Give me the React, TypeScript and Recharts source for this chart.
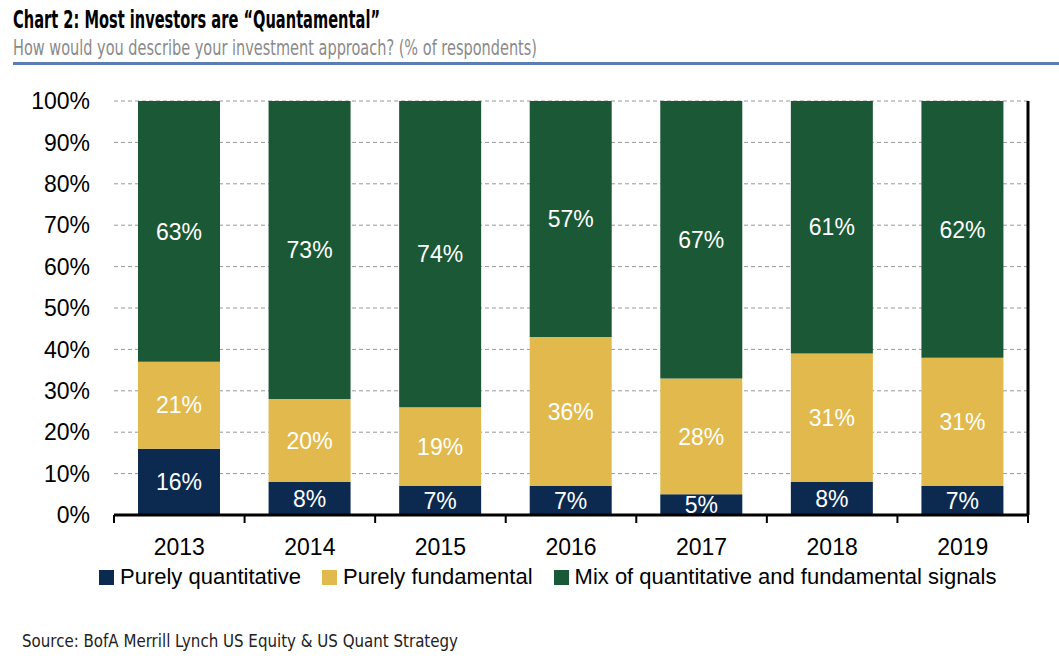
import { BarChart, Bar, XAxis, YAxis, CartesianGrid, LabelList } from 'recharts';

const years = ['2013', '2014', '2015', '2016', '2017', '2018', '2019'];
const purelyQuant = [16, 8, 7, 7, 5, 8, 7];
const purelyFundamental = [21, 20, 19, 36, 28, 31, 31];
const mixSignals = [63, 73, 74, 57, 67, 61, 62];
const yTicks = [0, 10, 20, 30, 40, 50, 60, 70, 80, 90, 100];

const NAVY = '#0c2a50';
const GOLD = '#e1b94c';
const GREEN = '#1b5836';

const series = [
  { key: 'quant', name: 'Purely quantitative', color: NAVY },
  { key: 'fund', name: 'Purely fundamental', color: GOLD },
  { key: 'mix', name: 'Mix of quantitative and fundamental signals', color: GREEN },
];

const data = years.map((year, i) => ({
  year,
  quant: purelyQuant[i],
  fund: purelyFundamental[i],
  mix: mixSignals[i],
}));

const W = 1059;
const H = 661;
const PLOT_LEFT = 114;
const PLOT_RIGHT = 1028;
const HALF_BAND = (PLOT_RIGHT - PLOT_LEFT) / years.length / 2;

const ARIAL = '"Liberation Sans", Arial, sans-serif';
const NARROW = '"Liberation Sans Narrow", "DejaVu Sans Condensed", sans-serif';

function YearTick(props: any) {
  const { x, y, payload, index } = props;
  const last = index === years.length - 1;
  return (
    <g>
      <line x1={x - HALF_BAND} x2={x - HALF_BAND} y1={y} y2={y + 8} stroke="#000" strokeWidth={2} />
      {last && (
        <line x1={x + HALF_BAND} x2={x + HALF_BAND} y1={y} y2={y + 8} stroke="#000" strokeWidth={2} />
      )}
      <text x={x} y={y + 40} textAnchor="middle" fontSize={23} fontFamily={ARIAL} fill="#000">
        {payload.value}
      </text>
    </g>
  );
}

export default function App() {
  return (
    <div style={{ position: 'absolute', left: 0, top: 0, width: W, height: H, background: '#fff' }}>
      <svg width={W} height={H} style={{ position: 'absolute', left: 0, top: 0 }}>
        <text x={13} y={28} fontSize={25} fontWeight="bold" fontFamily={NARROW} fill="#000"
          textLength={367} lengthAdjust="spacingAndGlyphs">
          Chart 2: Most investors are “Quantamental”
        </text>
        <text x={13} y={55} fontSize={21} fontFamily={NARROW} fill="#8a8a8a"
          textLength={524} lengthAdjust="spacingAndGlyphs">
          How would you describe your investment approach? (% of respondents)
        </text>
        <rect x={13} y={62} width={W - 13} height={3} fill="#5b7db1" />
        <text x={22} y={647} fontSize={18} fontFamily={NARROW} fill="#222"
          textLength={436} lengthAdjust="spacingAndGlyphs">
          Source: BofA Merrill Lynch US Equity &amp; US Quant Strategy
        </text>
      </svg>
      <div style={{ position: 'absolute', left: 0, top: 0 }}>
        <BarChart
          width={W}
          height={H}
          data={data}
          margin={{ top: 101, right: 0, bottom: 106, left: 0 }}
        >
          <CartesianGrid vertical={false} stroke="#999" strokeDasharray="4 3" yAxisId="left" />
          <XAxis
            dataKey="year"
            height={40}
            axisLine={{ stroke: '#000', strokeWidth: 3 }}
            tickLine={false}
            tickSize={0}
            tickMargin={0}
            tick={<YearTick />}
            interval={0}
          />
          <YAxis
            yAxisId="left"
            width={PLOT_LEFT}
            domain={[0, 100]}
            ticks={yTicks}
            allowDataOverflow
            axisLine={false}
            tickLine={false}
            tickSize={0}
            tickMargin={24}
            tickFormatter={(v) => `${v}%`}
            tick={{ fontSize: 23, fontFamily: ARIAL, fill: '#000' }}
          />
          <YAxis
            yAxisId="right"
            orientation="right"
            width={W - PLOT_RIGHT}
            domain={[0, 100]}
            ticks={yTicks}
            axisLine={{ stroke: '#000', strokeWidth: 3 }}
            tickLine={{ stroke: '#000', strokeWidth: 2 }}
            tickSize={8}
            tickFormatter={() => ''}
          />
          {series.map((s) => (
            <Bar
              key={s.key}
              dataKey={s.key}
              name={s.name}
              stackId="a"
              yAxisId="left"
              fill={s.color}
              barSize={82}
              isAnimationActive={false}
            >
              <LabelList
                dataKey={s.key}
                position="center"
                fill="#fff"
                fontSize={23}
                fontFamily={ARIAL}
                formatter={(v: any) => `${v}%`}
              />
            </Bar>
          ))}
        </BarChart>
      </div>
      <div
        style={{
          position: 'absolute',
          left: 99,
          top: 564,
          display: 'flex',
          alignItems: 'center',
          fontFamily: ARIAL,
          fontSize: 22,
          color: '#000',
          whiteSpace: 'nowrap',
        }}
      >
        {series.map((s) => (
          <div key={s.key} style={{ display: 'flex', alignItems: 'center', marginRight: 21 }}>
            <span style={{ display: 'inline-block', width: 15, height: 15, background: s.color, marginRight: 6 }} />
            <span>{s.name}</span>
          </div>
        ))}
      </div>
    </div>
  );
}
